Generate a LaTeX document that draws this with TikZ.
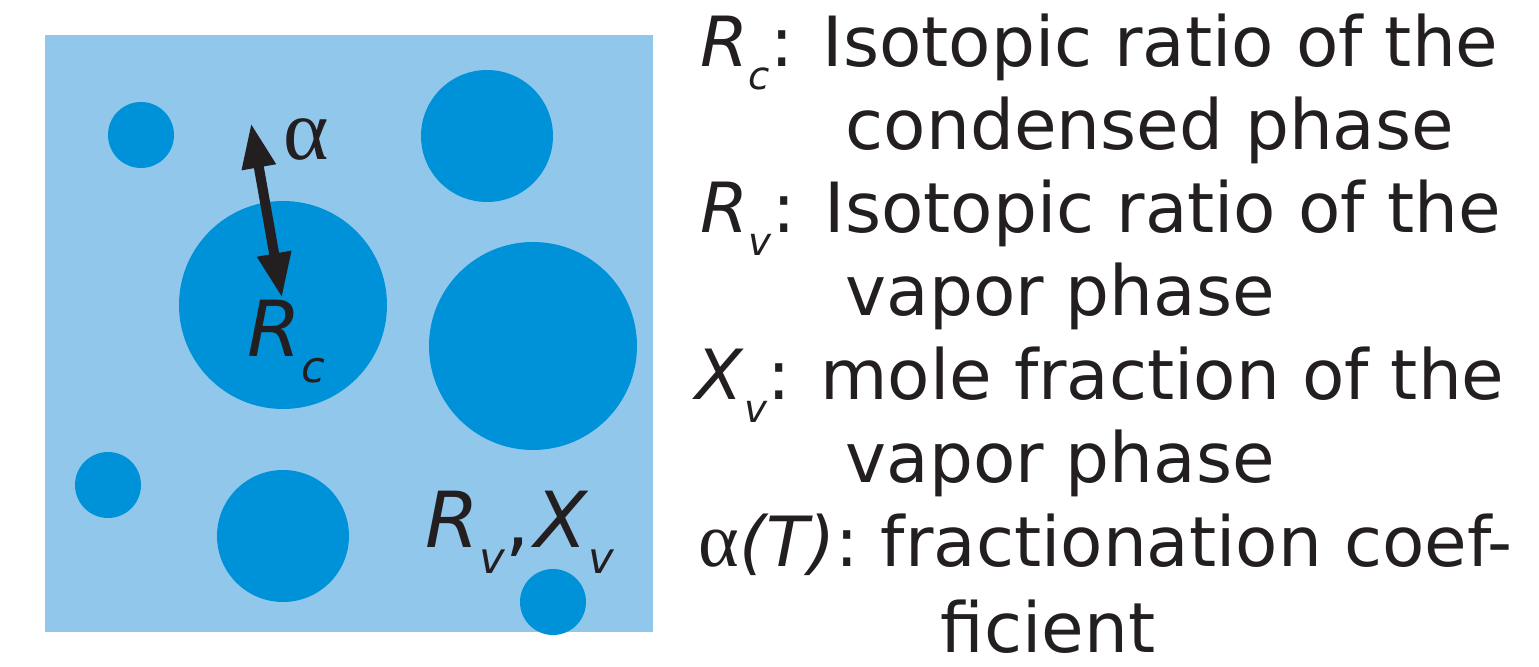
\documentclass[tikz,border=0pt]{standalone}
\usepackage{fontspec}
\setmainfont{DejaVu Sans}
\newfontfamily\greekfont{Liberation Serif}
\usepackage{graphicx}
\usetikzlibrary{arrows.meta}

\definecolor{vaporblue}{RGB}{146,199,236}
\definecolor{dropblue}{RGB}{0,146,216}
\definecolor{ink}{RGB}{35,31,32}

\newcommand{\isub}[2]{\textit{#1}\raisebox{-.33em}{\scalebox{.56}{\textit{#2}}}}
\newcommand{\alphasym}{{\greekfont\scalebox{1.12}{α}}}

\begin{document}
\begin{tikzpicture}[
  every node/.style={text=ink},
  drop/.style={circle, fill=dropblue, inner sep=0pt},
  tag/.style={font=\fontsize{22}{26}\selectfont, anchor=base west, inner sep=0pt},
  legendline/.style={font=\fontsize{19.7}{23}\selectfont, anchor=base west, inner sep=0pt},
  arrow/.style={{Triangle[length=4.5mm,width=3.2mm]}-{Triangle[length=4.5mm,width=3.2mm]}, line width=1mm, draw=ink},
]

\useasboundingbox (0,0) rectangle (15.39,6.67);

% vapor box with droplets
\node[fill=vaporblue, inner sep=0pt, minimum width=6.08cm, minimum height=5.97cm] (box) at (3.49,3.335) {};

\node[drop, minimum size=0.66cm] (d1) at (1.41,5.32) {};
\node[drop, minimum size=1.32cm] (d2) at (4.87,5.31) {};
\node[drop, minimum size=2.08cm] (d3) at (2.83,3.62) {};
\node[drop, minimum size=2.08cm] (d4) at (5.33,3.21) {};
\node[drop, minimum size=0.66cm] (d5) at (1.08,1.82) {};
\node[drop, minimum size=1.32cm] (d6) at (2.83,1.31) {};
\node[drop, minimum size=0.66cm] (d7) at (5.53,0.65) {};

% fractionation arrow
\coordinate (atop) at (2.51,5.44);
\coordinate (abot) at (2.82,3.69);
\draw[arrow] (atop) -- (abot);
\node[font=\fontsize{22}{26}\selectfont] (alpha) at (3.06,5.27) {\alphasym};

\node[tag] (rc) at (2.47,3.10) {\isub{R}{c}};
\node[tag] (rvxv) at (4.25,1.19) {\isub{R}{v},\hspace{.05em}\isub{X}{v}};

% legend
\node[legendline] (l1) at (7.00,6.00) {\isub{R}{c}: Isotopic ratio of the};
\node[legendline] (l2) at (8.45,5.17) {condensed phase};
\node[legendline] (l3) at (7.00,4.34) {\isub{R}{v}: Isotopic ratio of the};
\node[legendline] (l4) at (8.45,3.51) {vapor phase};
\node[legendline] (l5) at (6.95,2.67) {\isub{X}{v}: mole fraction of the};
\node[legendline] (l6) at (8.45,1.84) {vapor phase};
\node[legendline] (l7) at (6.98,1.00) {\alphasym\textit{(T)}: fractionation coef-};
\node[legendline] (l8) at (9.40,0.14) {ficient};

\end{tikzpicture}
\end{document}
